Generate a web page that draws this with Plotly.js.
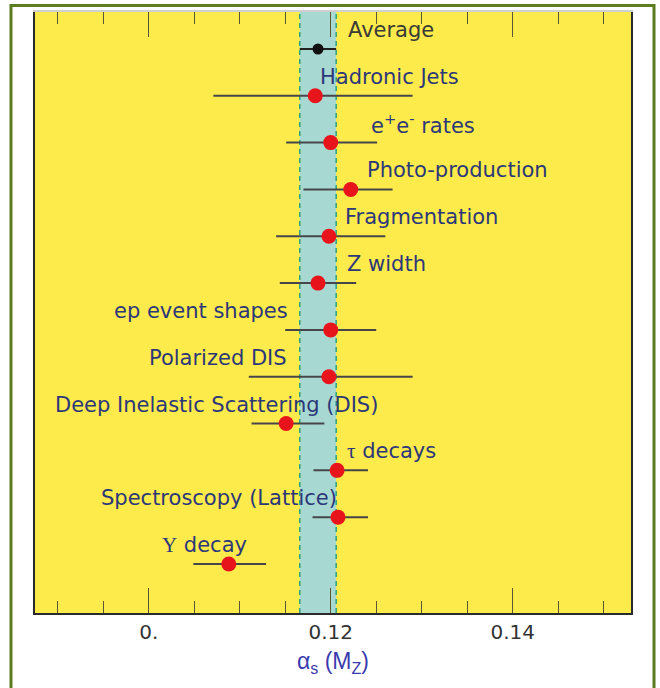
<!DOCTYPE html>
<html>
<head>
<meta charset="utf-8">
<script src="https://cdn.plot.ly/plotly-3.0.1.min.js"></script>
<style>html,body{margin:0;padding:0;background:#fff;}</style>
</head>
<body>
<div id="chart" style="width:660px;height:688px;"></div>
<script>
// ---- data ----
const averageName = 'Average';
const averageAlphaS = 0.1186;
const averageError = 0.0020;

const measurementNames = [
  'Hadronic Jets',
  'e<sup>+</sup>e<sup>-</sup> rates',
  'Photo-production',
  'Fragmentation',
  'Z width',
  'ep event shapes',
  'Polarized DIS',
  'Deep Inelastic Scattering (DIS)',
  '<span style="font-family:\'Liberation Serif\'">τ</span> decays',
  'Spectroscopy (Lattice)',
  '<span style="font-family:\'Liberation Serif\'">Υ</span> decay'
];
const alphaS    = [0.1183, 0.1200, 0.1222, 0.1198, 0.1186, 0.1200, 0.1198, 0.1151, 0.1207, 0.1208, 0.1088];
const errorUp   = [0.0107, 0.0051, 0.0046, 0.0062, 0.0042, 0.0050, 0.0092, 0.0042, 0.0034, 0.0033, 0.0041];
const errorDown = [0.0112, 0.0049, 0.0052, 0.0058, 0.0042, 0.0050, 0.0088, 0.0038, 0.0026, 0.0028, 0.0039];

const tickValues = [0.10, 0.12, 0.14];
const tickLabels = ['0.', '0.12', '0.14'];

// ---- label placement (layout only) ----
const averageLabelX = 0.1217;
const labelX = [0.1186, 0.1242, 0.1238, 0.1213, 0.1216, 0.0960, 0.0998, 0.0895, 0.1216, 0.0945, 0.1012];

const nRows = measurementNames.length;
const rows = measurementNames.map((_, i) => nRows - 1 - i);
const averageRow = nRows;

const blueText = '#2c3878';
const tickCol = '#5a5535';

const traces = [
  {
    type: 'scatter', mode: 'markers', xaxis: 'x', yaxis: 'y',
    x: alphaS, y: rows, text: measurementNames,
    hoverinfo: 'x+text',
    marker: {color: '#e8141c', size: 15, line: {width: 0}},
    error_x: {type: 'data', symmetric: false, array: errorUp, arrayminus: errorDown,
              color: '#46464a', thickness: 2, width: 0}
  },
  {
    type: 'scatter', mode: 'markers', xaxis: 'x', yaxis: 'y',
    x: [averageAlphaS], y: [averageRow], text: [averageName],
    hoverinfo: 'x+text',
    marker: {color: '#111', size: 11},
    error_x: {type: 'data', array: [averageError], color: '#222', thickness: 2, width: 0}
  },
  // empty trace so that the mirrored top axis (ticks only) is drawn
  {type: 'scatter', mode: 'markers', xaxis: 'x2', yaxis: 'y', x: [], y: [], hoverinfo: 'skip', showlegend: false}
];

const annotations = measurementNames.map((name, i) => ({
  x: labelX[i], y: rows[i], xref: 'x', yref: 'y',
  text: name, showarrow: false, xanchor: 'left', yanchor: 'middle', yshift: 19,
  font: {family: 'DejaVu Sans', size: 21, color: blueText}
}));
annotations.push({
  x: averageLabelX, y: averageRow, xref: 'x', yref: 'y',
  text: averageName, showarrow: false, xanchor: 'left', yanchor: 'middle', yshift: 19,
  font: {family: 'DejaVu Sans', size: 21, color: '#3a3a36'}
});

const xRange = [0.0875, 0.153];
const commonX = {
  range: xRange, tickmode: 'array', tickvals: tickValues, ticktext: tickLabels,
  ticks: 'inside', ticklen: 25, tickwidth: 1.3, tickcolor: tickCol,
  minor: {tickmode: 'linear', tick0: 0.09, dtick: 0.005, ticks: 'inside', ticklen: 12, tickwidth: 1.3, tickcolor: tickCol, showgrid: false},
  showgrid: false, zeroline: false, fixedrange: true
};

const layout = {
  width: 660, height: 688,
  margin: {l: 35, r: 29, t: 12, b: 75},
  paper_bgcolor: '#ffffff',
  plot_bgcolor: '#fdea4b',
  showlegend: false,
  xaxis: Object.assign({}, commonX, {
    showline: true, linecolor: '#2a2a2a', linewidth: 2,
    tickfont: {family: 'DejaVu Sans', size: 20, color: '#333'},
    title: {text: 'α<sub>s</sub> (M<sub>Z</sub>)', standoff: 10,
            font: {family: 'Liberation Sans', size: 23, color: '#3b3bae'}}
  }),
  xaxis2: Object.assign({}, commonX, {
    overlaying: 'x', side: 'top', anchor: 'y', showticklabels: false,
    showline: true, linecolor: '#cfcfcf', linewidth: 2
  }),
  yaxis: {
    range: [-1.047, averageRow + 0.79], showticklabels: false, ticks: '',
    showgrid: false, zeroline: false, showline: true, linecolor: '#2a2a2a', linewidth: 2,
    mirror: true, fixedrange: true
  },
  shapes: [
    {type: 'rect', xref: 'x', yref: 'paper', layer: 'below',
     x0: averageAlphaS - averageError, x1: averageAlphaS + averageError, y0: 0, y1: 1,
     fillcolor: '#a8d8d2', line: {width: 0}},
    {type: 'line', xref: 'x', yref: 'paper', layer: 'below',
     x0: averageAlphaS - averageError, x1: averageAlphaS - averageError, y0: 0, y1: 1,
     line: {color: '#2ea37a', width: 1.5, dash: '5px,4px'}},
    {type: 'line', xref: 'x', yref: 'paper', layer: 'below',
     x0: averageAlphaS + averageError, x1: averageAlphaS + averageError, y0: 0, y1: 1,
     line: {color: '#2ea37a', width: 1.5, dash: '5px,4px'}},
    {type: 'rect', xref: 'paper', yref: 'paper', layer: 'above',
     x0: -0.0403, x1: 1.0386, y0: -0.2, y1: 1.0108,
     fillcolor: 'rgba(0,0,0,0)', line: {color: '#5b7d1f', width: 3}}
  ],
  annotations: annotations
};

Plotly.newPlot('chart', traces, layout, {displayModeBar: false, staticPlot: true});
</script>
</body>
</html>
